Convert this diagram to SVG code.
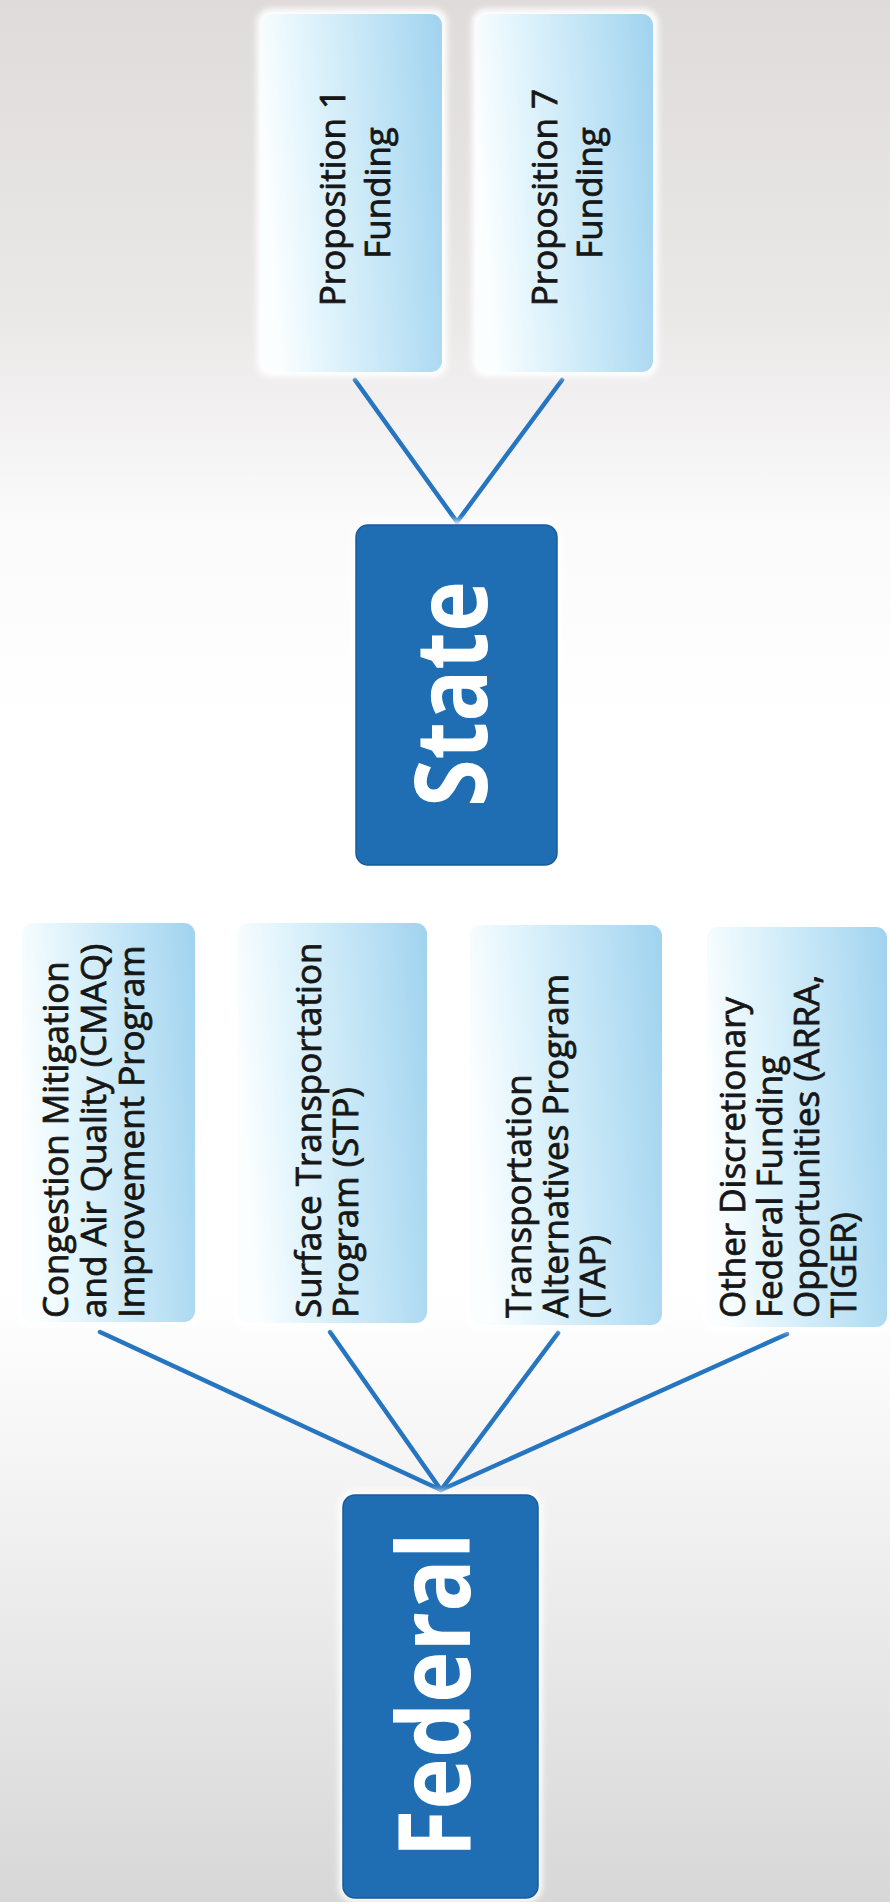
<svg xmlns="http://www.w3.org/2000/svg" width="890" height="1902" viewBox="0 0 890 1902">
  <defs>
    <linearGradient id="bg" x1="0" y1="0" x2="0" y2="1">
      <stop offset="0" stop-color="#dfdbdb"/>
      <stop offset="0.17" stop-color="#ebe8e8"/>
      <stop offset="0.27" stop-color="#fafafa"/>
      <stop offset="0.38" stop-color="#ffffff"/>
      <stop offset="0.68" stop-color="#ffffff"/>
      <stop offset="0.8" stop-color="#f1f1f1"/>
      <stop offset="1" stop-color="#d7d7d7"/>
    </linearGradient>
    <linearGradient id="light" x1="0" y1="0.35" x2="1" y2="0.2">
      <stop offset="0" stop-color="#fbfeff"/>
      <stop offset="0.25" stop-color="#e3f5fc"/>
      <stop offset="0.7" stop-color="#bde2f5"/>
      <stop offset="1" stop-color="#a3d4ef"/>
    </linearGradient>
    <filter id="glow" x="-20%" y="-20%" width="140%" height="140%">
      <feGaussianBlur stdDeviation="3"/>
    </filter>
    <style>
      .halo { fill: #ffffff; filter: url(#glow); }
      .lightbox { fill: url(#light); }
      .darkbox { fill: #1f6eb4; stroke: #195c9a; stroke-width: 1.5; }
      .prog { font-family: "Open Sans", "Liberation Sans", sans-serif; font-size: 35px; fill: #161616; stroke: #161616; stroke-width: 0.8; }
      .big { font-family: "Open Sans", "Liberation Sans", sans-serif; font-size: 100px; font-weight: bold; fill: #ffffff; }
      .conn { stroke: #2575c0; stroke-width: 4.5; stroke-linecap: round; fill: none; }
    </style>
  </defs>

  <rect x="0" y="0" width="890" height="1902" fill="url(#bg)"/>

  <g id="connectors">
    <line class="conn" x1="355" y1="380" x2="457" y2="522"/>
    <line class="conn" x1="562" y1="380" x2="457" y2="522"/>
    <line class="conn" x1="100" y1="1332" x2="441" y2="1490"/>
    <line class="conn" x1="330" y1="1332" x2="441" y2="1490"/>
    <line class="conn" x1="558" y1="1333" x2="441" y2="1490"/>
    <line class="conn" x1="787" y1="1334" x2="441" y2="1490"/>
  </g>

  <g id="prop1">
    <rect class="halo" x="257" y="9" width="190" height="368" rx="14"/>
    <rect class="lightbox" x="262" y="14" width="180" height="358" rx="11"/>
    <text class="prog" text-anchor="middle" transform="translate(345,193) rotate(-90)">
      <tspan x="0" y="0">Proposition 1</tspan>
      <tspan x="0" y="45">Funding</tspan>
    </text>
  </g>

  <g id="prop7">
    <rect class="halo" x="472" y="9" width="186" height="368" rx="14"/>
    <rect class="lightbox" x="477" y="14" width="176" height="358" rx="11"/>
    <text class="prog" text-anchor="middle" transform="translate(557,193) rotate(-90)">
      <tspan x="0" y="0">Proposition 7</tspan>
      <tspan x="0" y="45">Funding</tspan>
    </text>
  </g>

  <g id="state">
    <rect class="halo" x="352" y="521" width="209" height="348" rx="15"/>
    <rect class="darkbox" x="356" y="525" width="201" height="340" rx="12"/>
    <text class="big" text-anchor="middle" textLength="226" lengthAdjust="spacingAndGlyphs" transform="translate(487,694) rotate(-90)">State</text>
  </g>

  <g id="cmaq">
    <rect class="halo" x="18" y="919" width="181" height="407" rx="14"/>
    <rect class="lightbox" x="22" y="923" width="173" height="399" rx="11"/>
    <text class="prog" transform="translate(68,1318) rotate(-90)">
      <tspan x="0" y="0">Congestion Mitigation</tspan>
      <tspan x="0" y="38">and Air Quality (CMAQ)</tspan>
      <tspan x="0" y="76">Improvement Program</tspan>
    </text>
  </g>

  <g id="stp">
    <rect class="halo" x="234" y="919" width="197" height="408" rx="14"/>
    <rect class="lightbox" x="238" y="923" width="189" height="400" rx="11"/>
    <text class="prog" transform="translate(321,1318) rotate(-90)">
      <tspan x="0" y="0">Surface Transportation</tspan>
      <tspan x="0" y="37">Program (STP)</tspan>
    </text>
  </g>

  <g id="tap">
    <rect class="halo" x="466" y="921" width="200" height="408" rx="14"/>
    <rect class="lightbox" x="470" y="925" width="192" height="400" rx="11"/>
    <text class="prog" transform="translate(531,1318) rotate(-90)">
      <tspan x="0" y="0">Transportation</tspan>
      <tspan x="0" y="37">Alternatives Program</tspan>
      <tspan x="0" y="74">(TAP)</tspan>
    </text>
  </g>

  <g id="other">
    <rect class="halo" x="703" y="923" width="188" height="408" rx="14"/>
    <rect class="lightbox" x="707" y="927" width="180" height="400" rx="11"/>
    <text class="prog" transform="translate(745,1318) rotate(-90)">
      <tspan x="0" y="0">Other Discretionary</tspan>
      <tspan x="0" y="37">Federal Funding</tspan>
      <tspan x="0" y="74">Opportunities (ARRA,</tspan>
      <tspan x="0" y="111">TIGER)</tspan>
    </text>
  </g>

  <g id="federal">
    <rect class="halo" x="339" y="1491" width="203" height="411" rx="15"/>
    <rect class="darkbox" x="343" y="1495" width="195" height="403" rx="12"/>
    <text class="big" text-anchor="middle" textLength="325" lengthAdjust="spacingAndGlyphs" transform="translate(470,1695) rotate(-90)">Federal</text>
  </g>
</svg>
